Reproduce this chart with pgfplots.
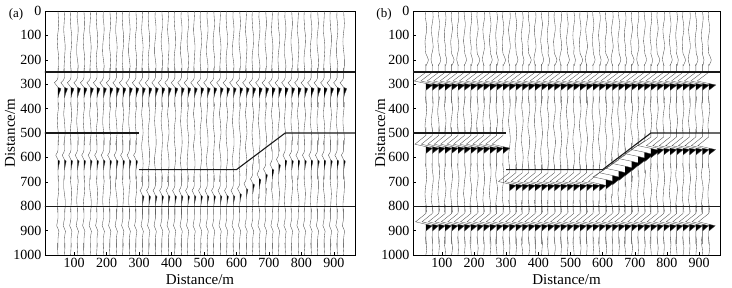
\documentclass[border=0pt]{standalone}
\usepackage{pgfplots}
\usepackage{pgfplotstable}
\usepackage{fontspec}
\setmainfont{Liberation Serif}
\pgfplotsset{compat=1.18}
\pgfplotsset{
 myax/.style={scale only axis, height=244pt, xmin=10, xmax=965, ymin=0, ymax=1000, y dir=reverse,
  xtick={100,200,...,900}, ytick={0,100,...,1000}, tick pos=left, tick align=inside,
  major tick length=3pt, axis line style={black, line width=0.6pt}, tick style={black, line width=0.5pt},
  ticklabel style={font=\fontsize{14}{15}\selectfont},
  /pgf/number format/1000 sep={}, /pgf/number format/assume math mode=true,
  xlabel={Distance/m}, ylabel={Distance/m},
  every axis x label/.style={at={(axis description cs:0.5,-0.1)}, anchor=center, font=\fontsize{15}{16}\selectfont}},
 tr/.style={black!70, line width=0.35pt, mark=none},
 nz/.style={black!70, line width=0.35pt, mark=none, smooth, tension=0.6},
 fl/.style={fill=black, draw=none, mark=none},
 iface/.style={black!90, line width=1.1pt, mark=none}}

% noise patterns (t = depth, a = amplitude in m)
\pgfplotstableread[row sep=\\]{t a\\0 0\\25 1\\50 2\\75 1\\100 -1\\125 -2\\150 -1\\175 1\\200 2\\225 2\\250 0\\275 -2\\300 -2\\325 -1\\350 1\\375 2\\400 1\\425 -1\\450 -2\\475 -1\\500 1\\525 2\\550 1\\575 0\\600 -1\\625 -2\\650 -1\\675 1\\700 2\\725 2\\750 1\\775 -1\\800 -2\\825 -1\\850 0\\875 1\\900 2\\925 1\\950 -1\\975 -1\\1000 0\\}\NAa
\pgfplotstableread[row sep=\\]{t a\\0 1\\25 0\\50 -1\\75 -2\\100 -1\\125 1\\150 2\\175 1\\200 0\\225 -1\\250 -2\\275 -2\\300 0\\325 2\\350 3\\375 1\\400 -1\\425 -2\\450 0\\475 1\\500 2\\525 0\\550 -2\\575 -1\\600 1\\625 2\\650 1\\675 -1\\700 -2\\725 -2\\750 0\\775 2\\800 2\\825 1\\850 -1\\875 -2\\900 -1\\925 0\\950 1\\975 1\\1000 0\\}\NAb
\pgfplotstableread[row sep=\\]{t a\\0 -1\\25 -2\\50 -1\\75 0\\100 2\\125 2\\150 1\\175 -1\\200 -2\\225 -1\\250 1\\275 2\\300 2\\325 0\\350 -2\\375 -1\\400 1\\425 2\\450 1\\475 -1\\500 -2\\525 -1\\550 0\\575 2\\600 2\\625 1\\650 -1\\675 -2\\700 -1\\725 1\\750 2\\775 1\\800 0\\825 -2\\850 -2\\875 0\\900 1\\925 2\\950 1\\975 0\\1000 -1\\}\NAc
\pgfplotstableread[row sep=\\]{t a\\0 0\\25 -1\\50 1\\75 2\\100 1\\125 -1\\150 -2\\175 -2\\200 0\\225 2\\250 1\\275 -1\\300 -2\\325 0\\350 2\\375 2\\400 0\\425 -1\\450 -2\\475 -1\\500 1\\525 2\\550 2\\575 0\\600 -2\\625 -2\\650 0\\675 1\\700 2\\725 0\\750 -1\\775 -2\\800 -1\\825 1\\850 2\\875 2\\900 0\\925 -2\\950 -1\\975 0\\1000 1\\}\NAd
\pgfplotstableread[row sep=\\]{t a\\0 0\\25 -1\\50 1\\75 2\\100 0\\125 -2\\150 -1\\175 0\\200 6\\225 0\\250 1\\275 2\\300 0\\325 -2\\350 -1\\375 1\\400 2\\425 1\\450 -1\\475 -2\\500 0\\525 2\\550 2\\575 0\\600 -2\\625 -1\\650 1\\675 2\\700 1\\725 -1\\750 -2\\775 -1\\800 1\\825 2\\850 1\\875 0\\900 -2\\925 -1\\950 1\\975 2\\1000 0\\}\NBa
\pgfplotstableread[row sep=\\]{t a\\0 1\\25 2\\50 0\\75 -2\\100 -1\\125 1\\150 2\\175 -1\\200 -3\\225 1\\250 2\\275 0\\300 -2\\325 -2\\350 1\\375 2\\400 1\\425 -1\\450 -2\\475 -1\\500 1\\525 2\\550 1\\575 -1\\600 -2\\625 -1\\650 0\\675 2\\700 2\\725 0\\750 -1\\775 -2\\800 0\\825 2\\850 1\\875 -1\\900 -2\\925 -1\\950 1\\975 1\\1000 0\\}\NBb
\pgfplotstableread[row sep=\\]{t a\\0 -1\\25 0\\50 2\\75 1\\100 -1\\125 -2\\150 0\\175 1\\200 5\\225 -1\\250 -2\\275 -1\\300 1\\325 2\\350 2\\375 0\\400 -2\\425 -2\\450 0\\475 1\\500 2\\525 1\\550 -1\\575 -2\\600 -1\\625 1\\650 2\\675 2\\700 0\\725 -1\\750 -2\\775 0\\800 1\\825 2\\850 0\\875 -1\\900 -2\\925 0\\950 2\\975 1\\1000 0\\}\NBc
\pgfplotstableread[row sep=\\]{t a\\0 0\\25 2\\50 1\\75 -1\\100 -2\\125 -1\\150 1\\175 0\\200 4\\225 1\\250 -1\\275 -2\\300 0\\325 2\\350 1\\375 -1\\400 -1\\425 1\\450 2\\475 1\\500 -1\\525 -2\\550 -1\\575 1\\600 2\\625 1\\650 -1\\675 -2\\700 0\\725 2\\750 1\\775 -1\\800 -2\\825 -1\\850 1\\875 2\\900 1\\925 -1\\950 -2\\975 0\\1000 1\\}\NBd

% wavelets (t relative to event depth, a = amplitude in m)
\pgfplotstableread[row sep=\\]{t a\\-85 0\\-45 0\\-35 -3\\-24 -11\\-14 -5\\-5 0\\0 9\\6 8\\20 3.5\\38 0\\75 0\\}\WAtop
\pgfplotstableread[row sep=\\]{t a\\-5 0\\0 9\\6 8\\20 3.5\\38 0\\}\WAtopF
\pgfplotstableread[row sep=\\]{t a\\-85 0\\-45 0\\-35 -2\\-24 -7\\-14 -3\\-5 0\\0 5\\6 4.5\\20 2\\38 0\\75 0\\}\WAmid
\pgfplotstableread[row sep=\\]{t a\\-5 0\\0 5\\6 4.5\\20 2\\38 0\\}\WAmidF
\pgfplotstableread[row sep=\\]{t a\\-85 0\\-45 0\\-30 -2\\-15 -4\\-3 0\\8 3\\25 1\\40 0\\75 0\\}\WAbot
\pgfplotstableread[row sep=\\]{t a\\-85 0\\-52 0\\-16 -36\\-6 0\\0 22\\22 0\\75 0\\}\WBtop
\pgfplotstableread[row sep=\\]{t a\\-6 0\\0 22\\22 0\\}\WBtopF
\pgfplotstableread[row sep=\\]{t a\\-85 0\\-52 0\\-16 -34\\-6 0\\0 21\\22 0\\75 0\\}\WBmid
\pgfplotstableread[row sep=\\]{t a\\-6 0\\0 21\\22 0\\}\WBmidF
\pgfplotstableread[row sep=\\]{t a\\-85 0\\-55 0\\-20 -40\\-9 0\\0 28\\30 0\\75 0\\}\WBdip
\pgfplotstableread[row sep=\\]{t a\\-9 0\\0 28\\30 0\\}\WBdipF
\pgfplotstableread[row sep=\\]{t a\\-85 0\\-50 0\\-16 -32\\-6 0\\0 20\\22 0\\75 0\\}\WBbot
\pgfplotstableread[row sep=\\]{t a\\-6 0\\0 20\\22 0\\}\WBbotF

% one trace of panel (a): x, noise, d1, d2, d3
\newcommand\trA[5]{%
 \addplot[nz, unbounded coords=jump, y filter/.expression={((y>#3-55)&&(y<#3+45))||((y>#4-55)&&(y<#4+45))||((y>#5-55)&&(y<#5+45)) ? nan : y}] table[x expr=1.1*\thisrow{a}+#1, y=t] {#2};
 \addplot[fl] table[x expr=\thisrow{a}+#1, y expr=\thisrow{t}+#3] {\WAtopF};
 \addplot[tr] table[x expr=\thisrow{a}+#1, y expr=\thisrow{t}+#3] {\WAtop};
 \addplot[fl] table[x expr=\thisrow{a}+#1, y expr=\thisrow{t}+#4] {\WAmidF};
 \addplot[tr] table[x expr=\thisrow{a}+#1, y expr=\thisrow{t}+#4] {\WAmid};
 \addplot[tr] table[x expr=\thisrow{a}+#1, y expr=\thisrow{t}+#5] {\WAbot};
}
% one trace of panel (b): x, noise, d1, d2, d3, mid wavelet, mid fill
\newcommand\trB[7]{%
 \addplot[nz, unbounded coords=jump, y filter/.expression={((y>#3-55)&&(y<#3+45))||((y>#4-55)&&(y<#4+45))||((y>#5-55)&&(y<#5+45)) ? nan : y}] table[x expr=1.3*\thisrow{a}+#1, y=t] {#2};
 \addplot[fl] table[x expr=\thisrow{a}+#1, y expr=\thisrow{t}+#3] {\WBtopF};
 \addplot[tr] table[x expr=\thisrow{a}+#1, y expr=\thisrow{t}+#3] {\WBtop};
 \addplot[fl] table[x expr=\thisrow{a}+#1, y expr=\thisrow{t}+#4] {#7};
 \addplot[tr] table[x expr=\thisrow{a}+#1, y expr=\thisrow{t}+#4] {#6};
 \addplot[fl] table[x expr=\thisrow{a}+#1, y expr=\thisrow{t}+#5] {\WBbotF};
 \addplot[tr] table[x expr=\thisrow{a}+#1, y expr=\thisrow{t}+#5] {\WBbot};
}

\begin{document}
\begin{tikzpicture}[x=1pt,y=1pt]
\useasboundingbox (0,0) rectangle (732,288);
\begin{axis}[myax, at={(45pt,33pt)}, anchor=south west, width=310pt,
  every axis y label/.style={at={(axis description cs:-0.113,0.5)}, rotate=90, anchor=center, font=\fontsize{15}{16}\selectfont}]
\trA{50}{\NAa}{318}{615}{895}
\trA{70}{\NAb}{318}{615}{895}
\trA{90}{\NAc}{318}{615}{895}
\trA{110}{\NAd}{318}{615}{895}
\trA{130}{\NAa}{318}{615}{895}
\trA{150}{\NAb}{318}{615}{895}
\trA{170}{\NAc}{318}{615}{895}
\trA{190}{\NAd}{318}{615}{895}
\trA{210}{\NAa}{318}{615}{895}
\trA{230}{\NAb}{318}{615}{895}
\trA{250}{\NAc}{318}{615}{895}
\trA{270}{\NAd}{318}{615}{895}
\trA{290}{\NAa}{318}{615}{895}
\trA{310}{\NAb}{318}{760}{895}
\trA{330}{\NAc}{318}{760}{895}
\trA{350}{\NAd}{318}{760}{895}
\trA{370}{\NAa}{318}{760}{895}
\trA{390}{\NAb}{318}{760}{895}
\trA{410}{\NAc}{318}{760}{895}
\trA{430}{\NAd}{318}{760}{895}
\trA{450}{\NAa}{318}{760}{895}
\trA{470}{\NAb}{318}{760}{895}
\trA{490}{\NAc}{318}{760}{895}
\trA{510}{\NAd}{318}{760}{895}
\trA{530}{\NAa}{318}{760}{895}
\trA{550}{\NAb}{318}{760}{895}
\trA{570}{\NAc}{318}{760}{895}
\trA{590}{\NAd}{318}{760}{895}
\trA{610}{\NAa}{318}{752}{895}
\trA{630}{\NAb}{318}{732}{895}
\trA{650}{\NAc}{318}{712}{895}
\trA{670}{\NAd}{318}{692}{895}
\trA{690}{\NAa}{318}{672}{895}
\trA{710}{\NAb}{318}{652}{895}
\trA{730}{\NAc}{318}{632}{895}
\trA{750}{\NAd}{318}{615}{895}
\trA{770}{\NAa}{318}{615}{895}
\trA{790}{\NAb}{318}{615}{895}
\trA{810}{\NAc}{318}{615}{895}
\trA{830}{\NAd}{318}{615}{895}
\trA{850}{\NAa}{318}{615}{895}
\trA{870}{\NAb}{318}{615}{895}
\trA{890}{\NAc}{318}{615}{895}
\trA{910}{\NAd}{318}{615}{895}
\trA{930}{\NAa}{318}{615}{895}
\addplot[iface] coordinates {(0,250) (1000,250)};
\addplot[iface] coordinates {(0,500) (300,500)};
\addplot[iface] coordinates {(300,650) (600,650) (750,500) (1000,500)};
\addplot[iface] coordinates {(0,800) (1000,800)};
\end{axis}
\begin{axis}[myax, at={(413pt,33pt)}, anchor=south west, width=307pt,
  every axis y label/.style={at={(axis description cs:-0.107,0.5)}, rotate=90, anchor=center, font=\fontsize{15}{16}\selectfont}]
\trB{50}{\NBa}{303}{562}{880}{\WBmid}{\WBmidF}
\trB{70}{\NBb}{303}{562}{880}{\WBmid}{\WBmidF}
\trB{90}{\NBc}{303}{562}{880}{\WBmid}{\WBmidF}
\trB{110}{\NBd}{303}{562}{880}{\WBmid}{\WBmidF}
\trB{130}{\NBa}{303}{562}{880}{\WBmid}{\WBmidF}
\trB{150}{\NBb}{303}{562}{880}{\WBmid}{\WBmidF}
\trB{170}{\NBc}{303}{562}{880}{\WBmid}{\WBmidF}
\trB{190}{\NBd}{303}{562}{880}{\WBmid}{\WBmidF}
\trB{210}{\NBa}{303}{562}{880}{\WBmid}{\WBmidF}
\trB{230}{\NBb}{303}{562}{880}{\WBmid}{\WBmidF}
\trB{250}{\NBc}{303}{562}{880}{\WBmid}{\WBmidF}
\trB{270}{\NBd}{303}{562}{880}{\WBmid}{\WBmidF}
\trB{290}{\NBa}{303}{562}{880}{\WBmid}{\WBmidF}
\trB{310}{\NBb}{303}{715}{880}{\WBmid}{\WBmidF}
\trB{330}{\NBc}{303}{715}{880}{\WBmid}{\WBmidF}
\trB{350}{\NBd}{303}{715}{880}{\WBmid}{\WBmidF}
\trB{370}{\NBa}{303}{715}{880}{\WBmid}{\WBmidF}
\trB{390}{\NBb}{303}{715}{880}{\WBmid}{\WBmidF}
\trB{410}{\NBc}{303}{715}{880}{\WBmid}{\WBmidF}
\trB{430}{\NBd}{303}{715}{880}{\WBmid}{\WBmidF}
\trB{450}{\NBa}{303}{715}{880}{\WBmid}{\WBmidF}
\trB{470}{\NBb}{303}{715}{880}{\WBmid}{\WBmidF}
\trB{490}{\NBc}{303}{715}{880}{\WBmid}{\WBmidF}
\trB{510}{\NBd}{303}{715}{880}{\WBmid}{\WBmidF}
\trB{530}{\NBa}{303}{715}{880}{\WBmid}{\WBmidF}
\trB{550}{\NBb}{303}{715}{880}{\WBmid}{\WBmidF}
\trB{570}{\NBc}{303}{715}{880}{\WBmid}{\WBmidF}
\trB{590}{\NBd}{303}{715}{880}{\WBmid}{\WBmidF}
\trB{610}{\NBa}{303}{700}{880}{\WBdip}{\WBdipF}
\trB{630}{\NBb}{303}{683}{880}{\WBdip}{\WBdipF}
\trB{650}{\NBc}{303}{665}{880}{\WBdip}{\WBdipF}
\trB{670}{\NBd}{303}{645}{880}{\WBdip}{\WBdipF}
\trB{690}{\NBa}{303}{625}{880}{\WBdip}{\WBdipF}
\trB{710}{\NBb}{303}{605}{880}{\WBdip}{\WBdipF}
\trB{730}{\NBc}{303}{588}{880}{\WBdip}{\WBdipF}
\trB{750}{\NBd}{303}{572}{880}{\WBdip}{\WBdipF}
\trB{770}{\NBa}{303}{568}{880}{\WBmid}{\WBmidF}
\trB{790}{\NBb}{303}{568}{880}{\WBmid}{\WBmidF}
\trB{810}{\NBc}{303}{568}{880}{\WBmid}{\WBmidF}
\trB{830}{\NBd}{303}{568}{880}{\WBmid}{\WBmidF}
\trB{850}{\NBa}{303}{568}{880}{\WBmid}{\WBmidF}
\trB{870}{\NBb}{303}{568}{880}{\WBmid}{\WBmidF}
\trB{890}{\NBc}{303}{568}{880}{\WBmid}{\WBmidF}
\trB{910}{\NBd}{303}{568}{880}{\WBmid}{\WBmidF}
\trB{930}{\NBa}{303}{568}{880}{\WBmid}{\WBmidF}
\addplot[iface] coordinates {(0,250) (1000,250)};
\addplot[iface] coordinates {(0,500) (300,500)};
\addplot[iface] coordinates {(300,650) (600,650) (750,500) (1000,500)};
\addplot[iface] coordinates {(0,800) (1000,800)};
\end{axis}
\node[font=\fontsize{13}{14}\selectfont] at (16,274) {(a)};
\node[font=\fontsize{13}{14}\selectfont] at (384,274) {(b)};
\end{tikzpicture}
\end{document}
